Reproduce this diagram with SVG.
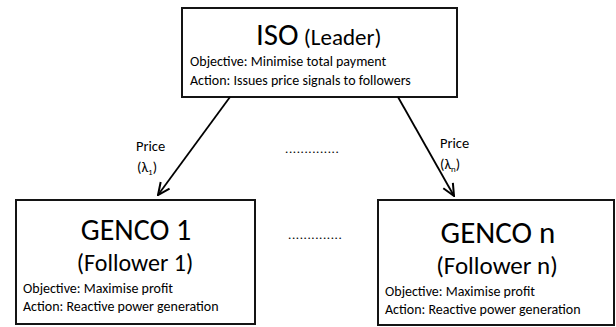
<svg xmlns="http://www.w3.org/2000/svg" width="616" height="327" viewBox="0 0 616 327">
  <style>
    text { font-family: Carlito, Lato, "Open Sans", sans-serif; fill: #000; }
    .box { fill: #fff; stroke: #141414; stroke-width: 2; }
    .big { font-size: 30px; }
    .sub { font-size: 24px; }
    .small { font-size: 14px; }
    .label { font-size: 14.5px; }
    .dots { font-size: 13px; letter-spacing: 0.6px; }
    .edge { stroke: #000; stroke-width: 1.8; fill: none; }
  </style>
  <defs>
    <marker id="arrow" viewBox="0 0 14 14" refX="13" refY="7" markerWidth="14" markerHeight="14" markerUnits="userSpaceOnUse" orient="auto">
      <path d="M1,1.5 L13,7 L1,12.5" fill="none" stroke="#000" stroke-width="2"/>
    </marker>
  </defs>

  <rect width="616" height="327" fill="#fff"/>

  <!-- leader -->
  <g id="iso">
    <rect class="box" x="182" y="8" width="275" height="89"/>
    <text x="256" y="45"><tspan font-size="31">ISO</tspan><tspan font-size="23"> (Leader)</tspan></text>
    <text class="small" x="190" y="66">Objective: Minimise total payment</text>
    <text class="small" x="190" y="85">Action: Issues price signals to followers</text>
  </g>

  <!-- follower 1 -->
  <g id="genco1">
    <rect class="box" x="16" y="200" width="239" height="124"/>
    <text class="big" x="136" y="240" text-anchor="middle">GENCO 1</text>
    <text class="sub" x="135" y="271" text-anchor="middle">(Follower 1)</text>
    <text class="small" x="23" y="293">Objective: Maximise profit</text>
    <text class="small" x="23" y="311">Action: Reactive power generation</text>
  </g>

  <!-- follower n -->
  <g id="gencon">
    <rect class="box" x="378" y="200" width="236" height="125"/>
    <text x="498" y="243" font-size="31" text-anchor="middle">GENCO n</text>
    <text x="497" y="274" font-size="25" text-anchor="middle">(Follower n)</text>
    <text class="small" x="385" y="296">Objective: Maximise profit</text>
    <text class="small" x="385" y="314">Action: Reactive power generation</text>
  </g>

  <!-- ellipses between followers -->
  <g id="ellipsis">
    <text class="dots" x="285" y="153">..............</text>
    <text class="dots" x="288" y="239">..............</text>
  </g>

  <!-- price signals -->
  <g id="connectors">
    <line class="edge" x1="230" y1="97" x2="158" y2="195" marker-end="url(#arrow)"/>
    <line class="edge" x1="398" y1="97" x2="454" y2="196" marker-end="url(#arrow)"/>
    <text class="label" x="136" y="151">Price</text>
    <text class="label" x="137" y="172">(λ<tspan font-size="9" dy="3">1</tspan><tspan dy="-3">)</tspan></text>
    <text class="label" x="440" y="148">Price</text>
    <text class="label" x="440" y="169">(λ<tspan font-size="9" dy="3">n</tspan><tspan dy="-3">)</tspan></text>
  </g>
</svg>
